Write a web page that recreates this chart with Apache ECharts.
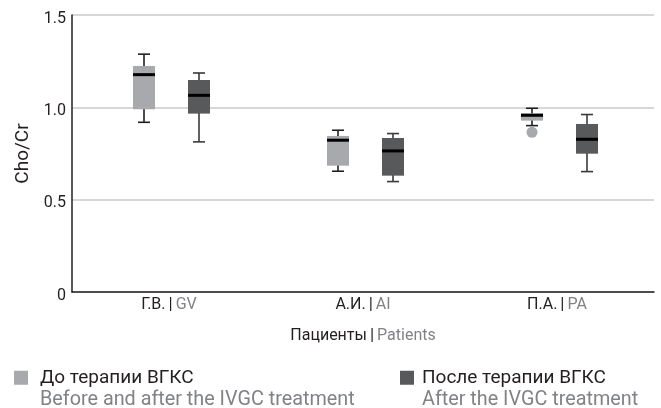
<!DOCTYPE html>
<html>
<head>
<meta charset="utf-8">
<script src="https://cdn.jsdelivr.net/npm/echarts@6/dist/echarts.min.js"></script>
<style>html,body{margin:0;padding:0;background:#fff;}#c{width:661px;height:408px;}</style>
</head>
<body>
<div id="c"></div>
<script>
// ---- data ----
var categoriesRu = ['Г.В.', 'А.И.', 'П.А.'];
var categoriesEn = ['GV', 'AI', 'PA'];
// [min, Q1, median, Q3, max]
var beforeValues = [
  [0.919, 0.990, 1.177, 1.224, 1.288],
  [0.654, 0.684, 0.822, 0.845, 0.876],
  [0.901, 0.928, 0.957, 0.968, 0.995]
];
var afterValues = [
  [0.813, 0.966, 1.065, 1.148, 1.186],
  [0.598, 0.630, 0.764, 0.834, 0.858],
  [0.652, 0.749, 0.827, 0.910, 0.961]
];
// [category index, value]
var beforeOutliers = [[2, 0.865]];
var seriesNames = ['До терапии ВГКС', 'После терапии ВГКС'];
var seriesNamesEn = ['Before and after the IVGC treatment', 'After the IVGC treatment'];

// ---- style ----
var FONT = 'Roboto';
var DARK = '#231f20';
var GREY_TXT = '#808285';
var C_BEFORE = '#a7a9ac';
var C_AFTER = '#58595b';
var BOX_W = 22, CAP_W = 12;

function boxRenderer(offset, fill, whisker) {
  return function (params, api) {
    var cat = api.value(0);
    var p = function (i) { return api.coord([cat, api.value(i)]); };
    var pMin = p(1), pQ1 = p(2), pMed = p(3), pQ3 = p(4), pMax = p(5);
    var x = pMed[0] + offset;
    var h = BOX_W / 2, ch = CAP_W / 2;
    var ls = { stroke: whisker, lineWidth: 1.6 };
    return {
      type: 'group',
      children: [
        { type: 'line', shape: { x1: x, y1: pMax[1], x2: x, y2: pMin[1] }, style: ls },
        { type: 'line', shape: { x1: x - ch, y1: pMax[1], x2: x + ch, y2: pMax[1] }, style: ls },
        { type: 'line', shape: { x1: x - ch, y1: pMin[1], x2: x + ch, y2: pMin[1] }, style: ls },
        { type: 'rect', shape: { x: x - h, y: pQ3[1], width: BOX_W, height: pQ1[1] - pQ3[1] }, style: { fill: fill } },
        { type: 'line', shape: { x1: x - h, y1: pMed[1], x2: x + h, y2: pMed[1] }, style: { stroke: '#000', lineWidth: 3 } }
      ]
    };
  };
}

function toData(vals) {
  return vals.map(function (v, i) { return [i].concat(v); });
}

var richLabel = {
  a: { color: DARK, fontFamily: FONT, fontSize: 16 },
  s: { color: DARK, fontFamily: FONT, fontSize: 17 },
  b: { color: GREY_TXT, fontFamily: FONT, fontSize: 16 }
};

function legendCfg(idx, left, gapPad) {
  return {
    data: [seriesNames[idx]],
    left: left,
    top: 344,
    padding: 0,
    icon: 'rect',
    itemWidth: 14,
    itemHeight: 14,
    selectedMode: false,
    formatter: function (n) {
      return '\n{a|' + n + '}\n{b|' + seriesNamesEn[idx] + '}';
    },
    textStyle: {
      fontFamily: FONT, fontSize: 19, lineHeight: 22.5, padding: [0, 0, 0, gapPad],
      rich: {
        a: { color: DARK, fontFamily: FONT, fontSize: 19, lineHeight: 22.5 },
        b: { color: GREY_TXT, fontFamily: FONT, fontSize: 19.8, lineHeight: 22.5 }
      }
    }
  };
}

var chart = echarts.init(document.getElementById('c'), null, { renderer: 'canvas' });
chart.setOption({
  animation: false,
  backgroundColor: '#fff',
  textStyle: { fontFamily: FONT },
  grid: { left: 72, right: 7, top: 15, bottom: 116, containLabel: false },
  legend: [legendCfg(0, 14, 7), legendCfg(1, 400, 3)],
  xAxis: {
    type: 'category',
    data: categoriesRu,
    axisLine: { show: true, lineStyle: { color: DARK, width: 1.5 } },
    axisTick: { show: false },
    axisLabel: {
      margin: 4,
      formatter: function (v, i) { return '{a|' + v + '} {s||} {b|' + categoriesEn[i] + '}'; },
      rich: richLabel
    },
    name: '{a|Пациенты} {s||} {b|Patients}',
    nameLocation: 'middle',
    nameGap: 35,
    nameTextStyle: { rich: richLabel }
  },
  yAxis: {
    type: 'value',
    min: 0, max: 1.5, interval: 0.5,
    axisLine: { show: true, lineStyle: { color: DARK, width: 1.5 } },
    axisTick: { show: false },
    splitLine: { show: true, lineStyle: { color: '#cacaca', width: 1.5 } },
    axisLabel: {
      margin: 6,
      color: DARK, fontFamily: FONT, fontSize: 16,
      verticalAlign: 'top', lineHeight: 7,
      formatter: function (v) { return v === 0 ? '0' : v.toFixed(1); }
    },
    name: 'Cho/Cr',
    nameLocation: 'middle',
    nameGap: 39,
    nameTextStyle: { color: DARK, fontFamily: FONT, fontSize: 19 }
  },
  series: [
    {
      name: seriesNames[0], type: 'custom',
      itemStyle: { color: C_BEFORE },
      encode: { x: 0, y: [1, 2, 3, 4, 5] },
      renderItem: boxRenderer(-25, C_BEFORE, DARK),
      data: toData(beforeValues)
    },
    {
      name: seriesNames[1], type: 'custom',
      itemStyle: { color: C_AFTER },
      encode: { x: 0, y: [1, 2, 3, 4, 5] },
      renderItem: boxRenderer(30, C_AFTER, '#3a3a3a'),
      data: toData(afterValues)
    },
    {
      name: 'outliers', type: 'custom',
      encode: { x: 0, y: 1 },
      renderItem: function (params, api) {
        var pt = api.coord([api.value(0), api.value(1)]);
        return { type: 'circle', shape: { cx: pt[0] - 25, cy: pt[1], r: 5.5 }, style: { fill: C_BEFORE } };
      },
      data: beforeOutliers
    }
  ]
});
</script>
</body>
</html>
